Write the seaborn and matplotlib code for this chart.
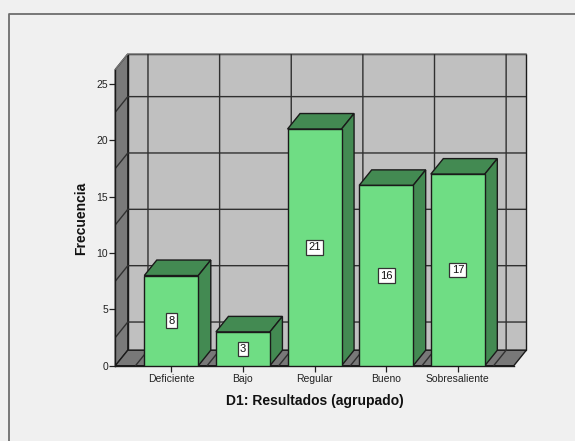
import matplotlib
matplotlib.use("Agg")
import matplotlib.pyplot as plt
from matplotlib.lines import Line2D
import pandas as pd
import seaborn as sns

categories = ["Deficiente", "Bajo", "Regular", "Bueno", "Sobresaliente"]
frequencies = [8, 3, 21, 16, 17]
y_ticks = [0, 5, 10, 15, 20, 25]
grid_levels = [2.5, 7.5, 12.5, 17.5, 22.5]

W, H = 575, 441
FACE = "#6FDD84"
SHADE = "#438A52"
WALL = "#C0C0C0"
SIDE = "#7A7A7A"
FLOOR = "#787878"
EDGE = "#1A1A1A"
BG = "#F0F0F0"

# Pixel layout of the plotting box, including the depth of the 3-D projection
LEFT, RIGHT, TOP, BASE = 115.3, 526.3, 54.0, 365.7
UNIT_X, UNIT_Y = 71.63, 11.27
DX, DY = 12.5 / UNIT_X, 15.5 / UNIT_Y
X0 = -(171.3 - LEFT) / UNIT_X
X1 = (RIGHT - 171.3) / UNIT_X
Y1 = (BASE - TOP) / UNIT_Y
BAR_W = 54 / UNIT_X

sns.set_theme(style="white")
plt.rcParams["font.family"] = ["Liberation Sans", "DejaVu Sans"]

fig = plt.figure(figsize=(W / 100, H / 100), dpi=100, facecolor=BG)

# Chart frame: only the top and left edges show
fig.add_artist(Line2D([8.5 / W, 8.5 / W, 1], [0, 1 - 14 / H, 1 - 14 / H], transform=fig.transFigure,
                      color="#6E6E6E", lw=1.3, zorder=-1))

ax = fig.add_axes([LEFT / W, 1 - BASE / H, (RIGHT - LEFT) / W, (BASE - TOP) / H])
ax.patch.set_alpha(0)

df = pd.DataFrame({"categoria": categories, "frecuencia": frequencies})

# Walls and floor of the box
x_front_end = X1 - DX
y_front_top = Y1 - DY
ax.fill([X0 + DX, X1, X1, X0 + DX], [DY, DY, Y1, Y1], fc=WALL, ec=EDGE, lw=1.0, zorder=1, clip_on=False)
ax.fill([X0, X0 + DX, X0 + DX, X0], [0, DY, Y1, y_front_top], fc=SIDE, ec=EDGE, lw=1.0, zorder=1, clip_on=False)
ax.fill([X0, x_front_end, X1, X0 + DX], [0, 0, DY, DY], fc=FLOOR, ec=EDGE, lw=1.0, zorder=1, clip_on=False)
ax.plot([X0, X0 + DX, X1], [y_front_top, Y1, Y1], color="#777777", lw=1.0, zorder=2, clip_on=False)

# Grid lines run along the back wall and turn onto the side wall
for level in grid_levels:
    ax.plot([X0, X0 + DX, X1], [level, level + DY, level + DY], color="#303030", lw=1.0, zorder=2)
for i in range(len(categories) + 1):
    bx = i - 0.5
    ax.plot([bx, bx + DX, bx + DX], [0, DY, Y1], color="#303030", lw=1.0, zorder=2)

# Front faces of the bars
sns.barplot(data=df, x="categoria", y="frecuencia", color=FACE, saturation=1, width=BAR_W,
            edgecolor=EDGE, linewidth=1.0, ax=ax, zorder=4)

# Top and side faces of the bars, with the value flag on each front face
half = BAR_W / 2
for i, v in enumerate(frequencies):
    xl, xr = i - half, i + half
    ax.fill([xl, xr, xr + DX, xl + DX], [v, v, v + DY, v + DY], fc=SHADE, ec=EDGE, lw=1.0, zorder=3)
    ax.fill([xr, xr + DX, xr + DX, xr], [0, DY, v + DY, v], fc=SHADE, ec=EDGE, lw=1.0, zorder=3)
    ax.text(i, v / 2, str(v), ha="center", va="center", fontsize=8.0, color="#111111", zorder=6,
            bbox=dict(boxstyle="square,pad=0.2", fc="white", ec="#333333", lw=0.9))

ax.set_xlim(X0, X1)
ax.set_ylim(0, Y1)
ax.set_yticks(y_ticks)
ax.set_xticks(range(len(categories)))
ax.set_xticklabels(categories)
ax.tick_params(axis="both", which="major", length=4.2, width=0.9, color="#222222",
               labelsize=7.5, labelcolor="#222222", pad=1.0, left=True, bottom=True)
ax.tick_params(axis="x", pad=2.0)

for name in ("top", "right"):
    ax.spines[name].set_visible(False)
for name in ("left", "bottom"):
    ax.spines[name].set_color(EDGE)
    ax.spines[name].set_linewidth(1.0)
ax.spines["left"].set_bounds(0, y_front_top)
ax.spines["bottom"].set_bounds(X0, x_front_end)

ax.set_xlabel("")
ax.set_ylabel("")
fig.text(314.5 / W, 1 - 401 / H, "D1: Resultados (agrupado)", ha="center", va="center",
         fontsize=10, fontweight="bold", color="#111111")
fig.text(81 / W, 1 - 218 / H, "Frecuencia", rotation=90, ha="center", va="center",
         fontsize=10, fontweight="bold", color="#111111")

fig.savefig("out.png", dpi=100, facecolor=BG)
